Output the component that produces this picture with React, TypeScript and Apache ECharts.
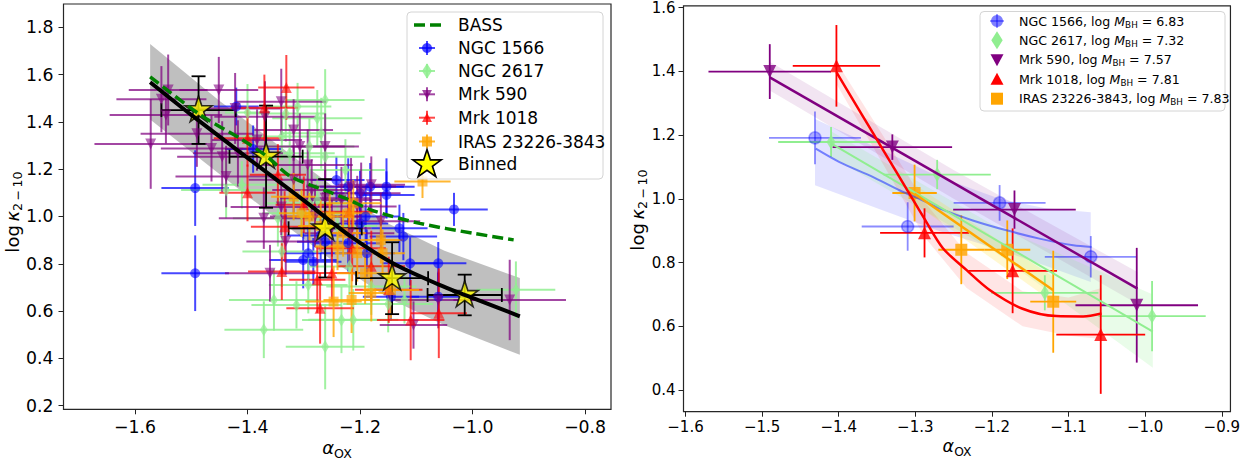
import React, { useEffect, useRef } from "react";
import * as echarts from "echarts";

// ---------------- Left panel data ----------------
const ngc1566X = [-1.493, -1.493, -1.42, -1.39, -1.242, -1.221, -1.2, -1.182, -1.153, -1.153, -1.033, -1.19, -1.123, -1.111, -1.061, -1.061, -1.301, -1.283, -1.292, -1.262, -1.221, -1.188, -1.145, -1.27, -1.13, -1.2];
const ngc1566Y = [1.12, 0.76, 1.465, 1.285, 1.154, 1.126, 1.098, 1.126, 1.126, 1.091, 1.03, 1.0, 0.915, 0.802, 0.802, 0.661, 0.816, 0.809, 0.844, 0.893, 0.887, 0.845, 0.66, 0.92, 0.95, 0.97];
const ngc1566XErr = [0.06, 0.06, 0.04, 0.05, 0.05, 0.05, 0.05, 0.06, 0.05, 0.05, 0.06, 0.06, 0.06, 0.05, 0.05, 0.05, 0.06, 0.05, 0.05, 0.05, 0.06, 0.05, 0.05, 0.06, 0.05, 0.05];
const ngc1566YErr = [0.16, 0.16, 0.08, 0.1, 0.1, 0.12, 0.1, 0.1, 0.12, 0.1, 0.07, 0.12, 0.1, 0.11, 0.09, 0.1, 0.12, 0.1, 0.12, 0.15, 0.12, 0.1, 0.1, 0.1, 0.1, 0.08];

const ngc2617X = [-1.41, -1.438, -1.332, -1.311, -1.262, -1.276, -1.269, -1.29, -1.262, -1.339, -1.325, -1.276, -1.29, -1.304, -1.346, -1.339, -1.292, -1.353, -1.371, -1.313, -1.262, -1.233, -1.212, -1.219, -1.18, -1.121, -0.923, -1.226, -1.4, -1.24, -1.15];
const ngc2617Y = [1.134, 1.112, 1.436, 1.465, 1.493, 1.415, 1.352, 1.296, 1.253, 1.338, 1.267, 1.07, 1.056, 1.014, 0.993, 0.852, 0.71, 0.647, 0.521, 0.626, 0.449, 0.562, 0.563, 0.788, 0.704, 0.647, 0.69, 1.197, 1.44, 0.96, 0.63];
const ngc2617XErr = [0.07, 0.08, 0.07, 0.06, 0.07, 0.08, 0.07, 0.08, 0.07, 0.07, 0.08, 0.07, 0.08, 0.07, 0.08, 0.07, 0.07, 0.08, 0.07, 0.08, 0.07, 0.07, 0.08, 0.07, 0.08, 0.07, 0.07, 0.07, 0.04, 0.07, 0.08];
const ngc2617YErr = [0.1, 0.12, 0.12, 0.1, 0.13, 0.12, 0.15, 0.12, 0.12, 0.1, 0.12, 0.1, 0.12, 0.1, 0.12, 0.15, 0.12, 0.13, 0.12, 0.1, 0.18, 0.14, 0.13, 0.12, 0.12, 0.1, 0.12, 0.13, 0.12, 0.1, 0.12];

const mrk590X = [-1.572, -1.553, -1.545, -1.541, -1.451, -1.422, -1.369, -1.34, -1.383, -1.464, -1.445, -1.318, -1.307, -1.371, -1.332, -1.36, -1.318, -1.286, -1.262, -1.233, -1.216, -1.198, -1.18, -1.205, -1.219, -1.061, -1.105, -0.934, -1.417, -1.438, -1.293, -1.262, -1.163, -1.28, -1.25, -1.49, -1.34];
const mrk590Y = [1.307, 1.496, 1.429, 1.535, 1.535, 1.457, 1.422, 1.485, 1.323, 1.288, 1.253, 1.366, 1.296, 0.993, 0.894, 0.76, 1.155, 1.112, 1.077, 1.07, 1.127, 1.098, 1.134, 1.042, 0.929, 0.647, 0.541, 0.647, 1.267, 1.169, 1.218, 1.296, 0.98, 1.0, 0.95, 1.35, 1.04];
const mrk590XErr = [0.1, 0.08, 0.1, 0.07, 0.07, 0.08, 0.09, 0.08, 0.08, 0.09, 0.08, 0.07, 0.08, 0.08, 0.07, 0.08, 0.08, 0.07, 0.08, 0.07, 0.08, 0.07, 0.06, 0.07, 0.08, 0.08, 0.06, 0.1, 0.08, 0.09, 0.08, 0.06, 0.07, 0.08, 0.07, 0.1, 0.09];
const mrk590YErr = [0.19, 0.14, 0.12, 0.15, 0.14, 0.15, 0.15, 0.14, 0.13, 0.14, 0.15, 0.13, 0.14, 0.13, 0.14, 0.12, 0.14, 0.13, 0.12, 0.14, 0.12, 0.13, 0.12, 0.13, 0.14, 0.12, 0.1, 0.17, 0.14, 0.13, 0.15, 0.14, 0.12, 0.13, 0.12, 0.14, 0.12];

const mrk1018X = [-1.331, -1.4, -1.346, -1.334, -1.339, -1.276, -1.271, -1.25, -1.214, -1.11, -1.06, -1.149, -1.37, -1.3, -1.22, -1.18, -1.4];
const mrk1018Y = [1.546, 1.331, 1.176, 0.957, 0.767, 0.732, 0.612, 0.761, 0.866, 0.562, 0.591, 0.69, 1.46, 1.05, 1.02, 0.79, 1.1];
const mrk1018XErr = [0.05, 0.06, 0.05, 0.06, 0.06, 0.05, 0.06, 0.05, 0.06, 0.06, 0.05, 0.06, 0.06, 0.05, 0.05, 0.06, 0.05];
const mrk1018YErr = [0.137, 0.12, 0.13, 0.15, 0.12, 0.14, 0.15, 0.12, 0.14, 0.17, 0.19, 0.14, 0.14, 0.12, 0.12, 0.15, 0.12];

const irasX = [-1.089, -1.318, -1.212, -1.219, -1.29, -1.24, -1.205, -1.191, -1.18, -1.247, -1.163, -1.254, -1.304, -1.215, -1.16, -1.145, -1.27, -1.23];
const irasY = [1.148, 1.084, 1.056, 1.014, 1.0, 0.873, 0.845, 0.76, 0.676, 0.64, 0.901, 1.0, 1.014, 0.647, 0.845, 0.689, 0.96, 0.93];
const irasXErr = [0.05, 0.04, 0.05, 0.04, 0.04, 0.04, 0.04, 0.05, 0.04, 0.05, 0.04, 0.04, 0.04, 0.05, 0.04, 0.05, 0.04, 0.04];
const irasYErr = [0.07, 0.1, 0.1, 0.09, 0.1, 0.1, 0.12, 0.13, 0.12, 0.15, 0.1, 0.1, 0.1, 0.14, 0.1, 0.12, 0.11, 0.1];

const binnedX = [-1.487, -1.367, -1.262, -1.143, -1.014];
const binnedY = [1.45, 1.253, 0.95, 0.739, 0.668];
const binnedXErr = [0.066, 0.065, 0.065, 0.064, 0.066];
const binnedYErr = [0.143, 0.216, 0.208, 0.152, 0.086];

const fitX = [-1.573, -1.5, -1.4, -1.3, -1.218, -1.14, -1.06, -1.014, -0.916];
const fitY = [1.568, 1.43, 1.248, 1.068, 0.918, 0.8, 0.712, 0.668, 0.578];
const bandX = [-1.573, -1.45, -1.35, -1.25, -1.15, -1.05, -0.916];
const bandUpper = [1.73, 1.49, 1.31, 1.13, 0.97, 0.855, 0.74];
const bandLower = [1.41, 1.18, 0.995, 0.815, 0.655, 0.54, 0.415];

const bassX = [-1.573, -1.484, -1.413, -1.366, -1.324, -1.262, -1.224, -1.177, -1.094, -0.999, -0.927];
const bassY = [1.591, 1.43, 1.33, 1.255, 1.17, 1.11, 1.075, 1.025, 0.971, 0.929, 0.901];

// ---------------- Right panel data ----------------
const r1566X = [-1.431, -1.31, -1.19, -1.071];
const r1566Y = [1.191, 0.913, 0.987, 0.818];
const r1566XErr = [0.06, 0.06, 0.06, 0.06];
const r1566YErr = [0.083, 0.076, 0.056, 0.065];
const r1566FitX = [-1.43, -1.399, -1.355, -1.32, -1.286, -1.268, -1.225, -1.181, -1.138, -1.094, -1.07];
const r1566FitY = [1.157, 1.115, 1.068, 1.026, 0.99, 0.969, 0.932, 0.901, 0.875, 0.854, 0.849];
const r1566BandX = [-1.431, -1.35, -1.27, -1.19, -1.13, -1.071];
const r1566BandUp = [1.25, 1.16, 1.07, 1.0, 0.97, 0.958];
const r1566BandLo = [1.042, 0.97, 0.9, 0.84, 0.79, 0.739];

const r2617X = [-1.41, -1.2715, -1.131, -0.991];
const r2617Y = [1.178, 1.076, 0.705, 0.632];
const r2617XErr = [0.069, 0.07, 0.07, 0.07];
const r2617YErr = [0.047, 0.046, 0.055, 0.11];
const r2617FitX = [-1.409, -0.99];
const r2617FitY = [1.172, 0.583];
const r2617BandX = [-1.409, -1.2, -0.99];
const r2617BandUp = [1.21, 0.92, 0.7];
const r2617BandLo = [1.13, 0.84, 0.47];

const r590X = [-1.49, -1.33, -1.1706, -1.011];
const r590Y = [1.399, 1.162, 0.966, 0.666];
const r590XErr = [0.08, 0.078, 0.08, 0.08];
const r590YErr = [0.086, 0.04, 0.06, 0.18];
const r590FitX = [-1.49, -1.01];
const r590FitY = [1.381, 0.718];
const r590BandX = [-1.49, -1.25, -1.01];
const r590BandUp = [1.43, 1.09, 0.77];
const r590BandLo = [1.34, 1.0, 0.67];

const r1018X = [-1.403, -1.288, -1.173, -1.058];
const r1018Y = [1.417, 0.893, 0.774, 0.574];
const r1018XErr = [0.057, 0.058, 0.058, 0.058];
const r1018YErr = [0.128, 0.077, 0.133, 0.186];
const r1018FitX = [-1.403, -1.37, -1.34, -1.31, -1.288, -1.264, -1.233, -1.203, -1.16, -1.116, -1.081, -1.057];
const r1018FitY = [1.397, 1.265, 1.145, 1.025, 0.937, 0.845, 0.776, 0.714, 0.655, 0.632, 0.631, 0.64];
const r1018BandX = [-1.403, -1.34, -1.288, -1.233, -1.16, -1.1, -1.057];
const r1018BandUp = [1.43, 1.19, 0.99, 0.83, 0.71, 0.69, 0.72];
const r1018BandLo = [1.36, 1.1, 0.88, 0.72, 0.6, 0.57, 0.56];

const rIrasX = [-1.301, -1.24, -1.18, -1.12];
const rIrasY = [1.018, 0.84, 0.84, 0.677];
const rIrasXErr = [0.029, 0.03, 0.03, 0.03];
const rIrasYErr = [0.089, 0.108, 0.092, 0.16];
const rIrasFitX = [-1.301, -1.12];
const rIrasFitY = [1.016, 0.713];
const rIrasBandX = [-1.301, -1.12];
const rIrasBandUp = [1.045, 0.755];
const rIrasBandLo = [0.985, 0.675];

// ---------------- Tick labels ----------------
const leftXTicks = [-1.6, -1.4, -1.2, -1.0, -0.8];
const leftYTicks = [0.2, 0.4, 0.6, 0.8, 1.0, 1.2, 1.4, 1.6, 1.8];
const rightXTicks = [-1.6, -1.5, -1.4, -1.3, -1.2, -1.1, -1.0, -0.9];
const rightYTicks = [0.4, 0.6, 0.8, 1.0, 1.2, 1.4, 1.6];

const leftLegend = ["BASS", "NGC 1566", "NGC 2617", "Mrk 590", "Mrk 1018", "IRAS 23226-3843", "Binned"];
const rightLegendNames = ["NGC 1566", "NGC 2617", "Mrk 590", "Mrk 1018", "IRAS 23226-3843"];
const rightLegendMass = ["6.83", "7.32", "7.57", "7.81", "7.83"];

// ---------------- helpers ----------------
const FONT = "'DejaVu Sans', sans-serif";
const C_BLUE = "rgba(0,0,255,0.72)";
const C_GREEN = "rgba(144,238,144,0.85)";
const C_PURPLE = "rgba(128,0,128,0.72)";
const C_RED = "rgba(255,0,0,0.72)";
const C_ORANGE = "rgba(255,165,0,0.8)";

function starVerts(cx: number, cy: number, R: number): number[][] {
  const pts: number[][] = [];
  const r = R * 0.381966;
  for (let k = 0; k < 10; k++) {
    const a = -Math.PI / 2 + (k * Math.PI) / 5;
    const rad = k % 2 === 0 ? R : r;
    pts.push([cx + rad * Math.cos(a), cy + rad * Math.sin(a)]);
  }
  return pts;
}
const STAR_PATH =
  "path://" +
  starVerts(50, 50, 50)
    .map((p, i) => (i === 0 ? "M" : "L") + p[0].toFixed(2) + "," + p[1].toFixed(2))
    .join(" ") +
  " Z";

function errorBars(xs: number[], ys: number[], xe: number[], ye: number[], color: string, width: number, axis: number, cap = 0): any {
  return {
    type: "custom",
    xAxisIndex: axis,
    yAxisIndex: axis,
    silent: true,
    data: xs.map((x, i) => [x, ys[i], xe[i], ye[i]]),
    encode: { x: 0, y: 1 },
    renderItem: (_p: any, api: any) => {
      const x = api.value(0), y = api.value(1), ex = api.value(2), ey = api.value(3);
      const l = api.coord([x - ex, y]);
      const r = api.coord([x + ex, y]);
      const t = api.coord([x, y + ey]);
      const b = api.coord([x, y - ey]);
      const st = { stroke: color, lineWidth: width };
      const ln = (a: number[], c: number[]) => ({ type: "line", shape: { x1: a[0], y1: a[1], x2: c[0], y2: c[1] }, style: st });
      const ch: any[] = [ln(l, r), ln(t, b)];
      if (cap) {
        ch.push(ln([l[0], l[1] - cap], [l[0], l[1] + cap]));
        ch.push(ln([r[0], r[1] - cap], [r[0], r[1] + cap]));
        ch.push(ln([t[0] - cap, t[1]], [t[0] + cap, t[1]]));
        ch.push(ln([b[0] - cap, b[1]], [b[0] + cap, b[1]]));
      }
      return { type: "group", children: ch };
    },
  };
}

function markers(xs: number[], ys: number[], symbol: string, size: any, color: string, axis: number, extra: any = {}): any {
  return {
    type: "scatter",
    xAxisIndex: axis,
    yAxisIndex: axis,
    silent: true,
    data: xs.map((x, i) => [x, ys[i]]),
    symbol,
    symbolSize: size,
    itemStyle: { color, ...(extra.itemStyle || {}) },
    symbolRotate: extra.rotate || 0,
    symbolOffset: extra.offset || [0, 0],
  };
}

function band(xs: number[], up: number[], lo: number[], fill: string, axis: number): any {
  return {
    type: "custom",
    xAxisIndex: axis,
    yAxisIndex: axis,
    silent: true,
    data: [[xs[0], up[0]]],
    encode: { x: 0, y: 1 },
    renderItem: (_p: any, api: any) => {
      const pts: number[][] = [];
      xs.forEach((x, i) => pts.push(api.coord([x, up[i]])));
      for (let i = xs.length - 1; i >= 0; i--) pts.push(api.coord([xs[i], lo[i]]));
      return { type: "polygon", shape: { points: pts }, style: { fill, stroke: "none" } };
    },
  };
}

function curve(xs: number[], ys: number[], color: string, width: number, axis: number, smooth: any = 0.3, dash: any = "solid"): any {
  return {
    type: "line",
    xAxisIndex: axis,
    yAxisIndex: axis,
    silent: true,
    data: xs.map((x, i) => [x, ys[i]]),
    showSymbol: false,
    symbol: "none",
    smooth,
    lineStyle: { color, width, type: dash, cap: "butt" },
  };
}

const fmt = (v: number) => (v < 0 ? "\u2212" : "") + Math.abs(v).toFixed(1);

function axisX(idx: number, min: number, max: number, ticks: number[], fs: number, margin: number): any {
  return {
    type: "value",
    gridIndex: idx,
    min,
    max,
    axisLine: { show: false },
    splitLine: { show: false },
    axisTick: { show: true, length: 5, lineStyle: { color: "#222", width: 1 }, customValues: ticks },
    axisLabel: { customValues: ticks, formatter: fmt, color: "#000", fontSize: fs, fontFamily: FONT, margin },
  };
}
function axisY(idx: number, min: number, max: number, ticks: number[], fs: number, margin: number): any {
  return {
    type: "value",
    gridIndex: idx,
    min,
    max,
    axisLine: { show: false },
    splitLine: { show: false },
    axisTick: { show: true, length: 5, lineStyle: { color: "#222", width: 1 }, customValues: ticks },
    axisLabel: { customValues: ticks, formatter: (v: number) => v.toFixed(1), color: "#000", fontSize: fs, fontFamily: FONT, margin },
  };
}

function legendMarker(kind: string, cx: number, cy: number, color: string, s: number): any {
  if (kind === "circle") return { type: "circle", shape: { cx, cy, r: s / 2 }, style: { fill: color } };
  if (kind === "diamond") return { type: "polygon", shape: { points: [[cx, cy - s * 0.6], [cx + s * 0.38, cy], [cx, cy + s * 0.6], [cx - s * 0.38, cy]] }, style: { fill: color } };
  if (kind === "down") return { type: "polygon", shape: { points: [[cx - s / 2, cy - s * 0.42], [cx + s / 2, cy - s * 0.42], [cx, cy + s * 0.5]] }, style: { fill: color } };
  if (kind === "up") return { type: "polygon", shape: { points: [[cx - s / 2, cy + s * 0.42], [cx + s / 2, cy + s * 0.42], [cx, cy - s * 0.5]] }, style: { fill: color } };
  return { type: "rect", shape: { x: cx - s / 2, y: cy - s / 2, width: s, height: s }, style: { fill: color } };
}

function buildGraphics(): any[] {
  const g: any[] = [];
  // Left legend
  g.push({ type: "rect", z: 100, silent: true, shape: { x: 407, y: 12, width: 196, height: 167, r: 4 }, style: { fill: "rgba(255,255,255,0.8)", stroke: "#d4d4d4", lineWidth: 1 } });
  const ly = [25, 48, 71, 94.3, 117.7, 141.5, 164];
  const lx = 427;
  const kinds = ["", "circle", "diamond", "down", "up", "square"];
  const cols = ["", C_BLUE, C_GREEN, C_PURPLE, C_RED, C_ORANGE];
  leftLegend.forEach((name, i) => {
    const y = ly[i];
    if (i === 0) {
      g.push({ type: "line", z: 101, silent: true, shape: { x1: 414, y1: y, x2: 446, y2: y }, style: { stroke: "#008000", lineWidth: 3.5, lineDash: [11, 5] } });
    } else if (i === 6) {
      g.push({ type: "polygon", z: 101, silent: true, shape: { points: starVerts(lx, y + 0.5, 15) }, style: { fill: "#ffff00", stroke: "#000", lineWidth: 1.6 } });
    } else {
      g.push({ type: "line", z: 101, silent: true, shape: { x1: lx - 8, y1: y, x2: lx + 8, y2: y }, style: { stroke: cols[i], lineWidth: 2 } });
      g.push({ type: "line", z: 101, silent: true, shape: { x1: lx, y1: y - 7, x2: lx, y2: y + 7 }, style: { stroke: cols[i], lineWidth: 2 } });
      const m = legendMarker(kinds[i], lx, y, cols[i], kinds[i] === "diamond" ? 13 : 10);
      g.push({ ...m, z: 102, silent: true });
    }
    g.push({ type: "text", z: 102, silent: true, x: 458, y, style: { text: name, fontSize: 17, fontFamily: FONT, fill: "#000", verticalAlign: "middle", align: "left" } });
  });

  // Right legend
  g.push({ type: "rect", z: 100, silent: true, shape: { x: 980, y: 11.5, width: 245, height: 99.5, r: 4 }, style: { fill: "rgba(255,255,255,0.8)", stroke: "#d4d4d4", lineWidth: 1 } });
  const ry = [21, 40.3, 59.8, 79.3, 98.7];
  const rk = ["circle", "diamond", "down", "up", "square"];
  const rc = ["rgba(0,0,255,0.5)", "#90ee90", "#800080", "#ff0000", "#ffa500"];
  const rs = [12, 15, 13, 13, 12];
  rightLegendNames.forEach((name, i) => {
    const y = ry[i];
    const cx = 997;
    if (i === 0) {
      g.push({ type: "line", z: 101, silent: true, shape: { x1: cx - 7, y1: y, x2: cx + 7, y2: y }, style: { stroke: rc[i], lineWidth: 1.5 } });
      g.push({ type: "line", z: 101, silent: true, shape: { x1: cx, y1: y - 7, x2: cx, y2: y + 7 }, style: { stroke: rc[i], lineWidth: 1.5 } });
    }
    const m = legendMarker(rk[i], cx, y, rc[i], rs[i]);
    g.push({ ...m, z: 102, silent: true });
    g.push({
      type: "text",
      z: 102,
      silent: true,
      x: 1019,
      y,
      style: {
        text: name + ", log {i|M}{s|BH} = " + rightLegendMass[i],
        fontSize: 12.6,
        fontFamily: FONT,
        fill: "#000",
        lineHeight: 16,
        verticalAlign: "middle",
        align: "left",
        rich: {
          i: { fontSize: 12.6, fontFamily: FONT, fontStyle: "italic", lineHeight: 16 },
          s: { fontSize: 8.8, fontFamily: FONT, lineHeight: 9, verticalAlign: "bottom" },
        },
      },
    });
  });

  // Axis titles
  const yTitle = (x: number, y: number, fs: number) => ({
    type: "text",
    silent: true,
    x,
    y,
    rotation: Math.PI / 2,
    style: {
      text: "{n|log\u2009}{k|\u03ba}{s|2\u2009\u2212\u200910}",
      fill: "#000",
      align: "center",
      verticalAlign: "middle",
      rich: {
        n: { fontSize: fs, fontFamily: FONT, lineHeight: fs + 6 },
        k: { fontSize: fs, fontFamily: FONT, fontStyle: "italic", lineHeight: fs + 6 },
        s: { fontSize: fs * 0.7, fontFamily: FONT, lineHeight: fs * 0.7, verticalAlign: "bottom" },
      },
    },
  });
  const xTitle = (x: number, y: number, fs: number) => ({
    type: "text",
    silent: true,
    x,
    y,
    style: {
      text: "{a|\u03b1}{s|OX}",
      fill: "#000",
      align: "center",
      verticalAlign: "middle",
      rich: {
        a: { fontSize: fs, fontFamily: FONT, fontStyle: "italic", lineHeight: fs + 6 },
        s: { fontSize: fs * 0.7, fontFamily: FONT, lineHeight: fs * 0.7, verticalAlign: "bottom" },
      },
    },
  });
  g.push(yTitle(12, 212, 18));
  g.push(xTitle(337, 447.5, 18));
  g.push(yTitle(637, 210, 18));
  g.push(xTitle(957, 446, 17.5));
  return g;
}

export default function App() {
  const ref = useRef<HTMLDivElement>(null);
  useEffect(() => {
    if (!ref.current) return;
    const chart = echarts.init(ref.current, null, { renderer: "svg" });
    const option: any = {
      animation: false,
      backgroundColor: "#ffffff",
      grid: [
        { left: 63.5, top: 4, width: 547.5, height: 405.3, show: true, borderColor: "#262626", borderWidth: 1.2, backgroundColor: "transparent" },
        { left: 683.5, top: 5, width: 547.5, height: 406.7, show: true, borderColor: "#262626", borderWidth: 1.2, backgroundColor: "transparent" },
      ],
      xAxis: [axisX(0, -1.727, -0.754, leftXTicks, 17.3, 9), axisX(1, -1.6026, -0.8887, rightXTicks, 15, 8)],
      yAxis: [axisY(0, 0.1845, 1.8987, leftYTicks, 17.3, 10), axisY(1, 0.332, 1.605, rightYTicks, 15, 8)],
      series: [
        band(bandX, bandUpper, bandLower, "rgba(128,128,128,0.5)", 0),
        errorBars(ngc1566X, ngc1566Y, ngc1566XErr, ngc1566YErr, C_BLUE, 2, 0),
        markers(ngc1566X, ngc1566Y, "circle", 10, C_BLUE, 0),
        errorBars(ngc2617X, ngc2617Y, ngc2617XErr, ngc2617YErr, C_GREEN, 2, 0),
        markers(ngc2617X, ngc2617Y, "diamond", [8, 13], C_GREEN, 0),
        errorBars(mrk590X, mrk590Y, mrk590XErr, mrk590YErr, C_PURPLE, 2, 0),
        markers(mrk590X, mrk590Y, "triangle", 11, C_PURPLE, 0, { rotate: 180 }),
        errorBars(mrk1018X, mrk1018Y, mrk1018XErr, mrk1018YErr, C_RED, 2, 0),
        markers(mrk1018X, mrk1018Y, "triangle", 11, C_RED, 0),
        errorBars(irasX, irasY, irasXErr, irasYErr, C_ORANGE, 2, 0),
        markers(irasX, irasY, "rect", 10, C_ORANGE, 0),
        curve(fitX, fitY, "#000000", 4, 0, 0.3),
        curve(bassX, bassY, "#008000", 3.5, 0, 0.3, [11, 5]),
        errorBars(binnedX, binnedY, binnedXErr, binnedYErr, "#000000", 1.8, 0, 7),
        markers(binnedX, binnedY, STAR_PATH, [27, 25.7], "#ffff00", 0, { offset: [0, -1.3], itemStyle: { borderColor: "#000", borderWidth: 1.6 } }),

        band(r1566BandX, r1566BandUp, r1566BandLo, "rgba(0,0,255,0.11)", 1),
        band(r590BandX, r590BandUp, r590BandLo, "rgba(128,0,128,0.1)", 1),
        band(r2617BandX, r2617BandUp, r2617BandLo, "rgba(144,238,144,0.2)", 1),
        band(r1018BandX, r1018BandUp, r1018BandLo, "rgba(255,0,0,0.1)", 1),
        band(rIrasBandX, rIrasBandUp, rIrasBandLo, "rgba(255,215,0,0.18)", 1),
        curve(r1566FitX, r1566FitY, "rgba(40,60,255,0.6)", 2, 1, 0.3),
        curve(r2617FitX, r2617FitY, "#90ee90", 2, 1, 0),
        curve(r590FitX, r590FitY, "#800080", 2.5, 1, 0),
        curve(r1018FitX, r1018FitY, "#ff0000", 2.5, 1, 0.3),
        curve(rIrasFitX, rIrasFitY, "#ffa500", 2.5, 1, 0),
        errorBars(r1566X, r1566Y, r1566XErr, r1566YErr, "rgba(0,0,255,0.45)", 1.8, 1),
        markers(r1566X, r1566Y, "circle", 12, "rgba(0,0,255,0.4)", 1, { itemStyle: { borderColor: "rgba(0,0,255,0.4)", borderWidth: 1.5 } }),
        errorBars(r2617X, r2617Y, r2617XErr, r2617YErr, "#90ee90", 1.8, 1),
        markers(r2617X, r2617Y, "diamond", [9, 15], "#90ee90", 1),
        errorBars(r590X, r590Y, r590XErr, r590YErr, "#800080", 1.8, 1),
        markers(r590X, r590Y, "triangle", 13, "#800080", 1, { rotate: 180 }),
        errorBars(r1018X, r1018Y, r1018XErr, r1018YErr, "#ff0000", 1.8, 1),
        markers(r1018X, r1018Y, "triangle", 13, "#ff0000", 1),
        errorBars(rIrasX, rIrasY, rIrasXErr, rIrasYErr, "#ffa500", 1.8, 1),
        markers(rIrasX, rIrasY, "rect", 12, "#ffa500", 1),
      ],
      graphic: buildGraphics(),
    };
    chart.setOption(option);
    return () => chart.dispose();
  }, []);
  return <div ref={ref} style={{ position: "fixed", left: 0, top: 0, width: 1243, height: 460, background: "#fff" }} />;
}
